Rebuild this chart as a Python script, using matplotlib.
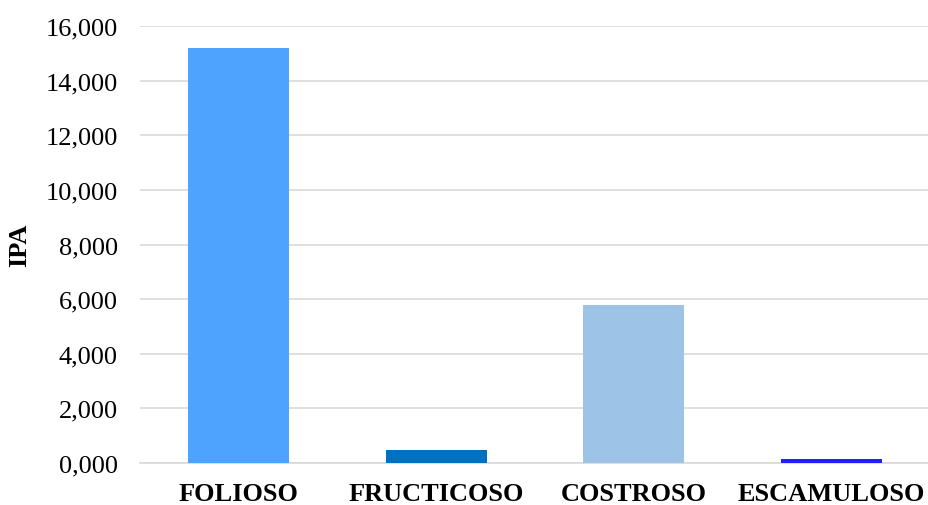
import matplotlib.pyplot as plt
from matplotlib.ticker import FuncFormatter

# Datos
categorias = ['FOLIOSO', 'FRUCTICOSO', 'COSTROSO', 'ESCAMULOSO']
ipa = [15200, 490, 5800, 160]
colores = ['#4da3ff', '#0070c0', '#9dc3e6', '#1f1fff']

plt.rcParams['font.family'] = ['Liberation Serif', 'DejaVu Serif']

fig = plt.figure(figsize=(9.29, 5.06), dpi=100)
ax = fig.add_axes([140 / 929, 1 - 464 / 506, 790 / 929, 437 / 506])

ax.bar(range(len(categorias)), ipa, width=0.51, color=colores, zorder=3)

ax.set_xlim(-0.5, 3.5)
ax.set_ylim(0, 16000)
ax.set_yticks(range(0, 16001, 2000))
ax.yaxis.set_major_formatter(FuncFormatter(lambda v, p: f'{int(v)//1000},{int(v)%1000:03d}'))
ax.set_xticks(range(len(categorias)))
ax.set_xticklabels(categorias, fontweight='bold', fontsize=19)
ax.tick_params(axis='y', labelsize=19, length=0, pad=16)
ax.tick_params(axis='x', length=0, pad=14)

ax.grid(axis='y', color='#d9d9d9', linewidth=1.2, zorder=0)
for s in ['top', 'right', 'left']:
    ax.spines[s].set_visible(False)
ax.spines['bottom'].set_color('#d9d9d9')
ax.spines['bottom'].set_linewidth(1.2)

ax.set_ylabel('IPA', fontweight='bold', fontsize=19)
ax.yaxis.set_label_coords(-0.138, 0.5)

fig.savefig('out.png', dpi=100)
